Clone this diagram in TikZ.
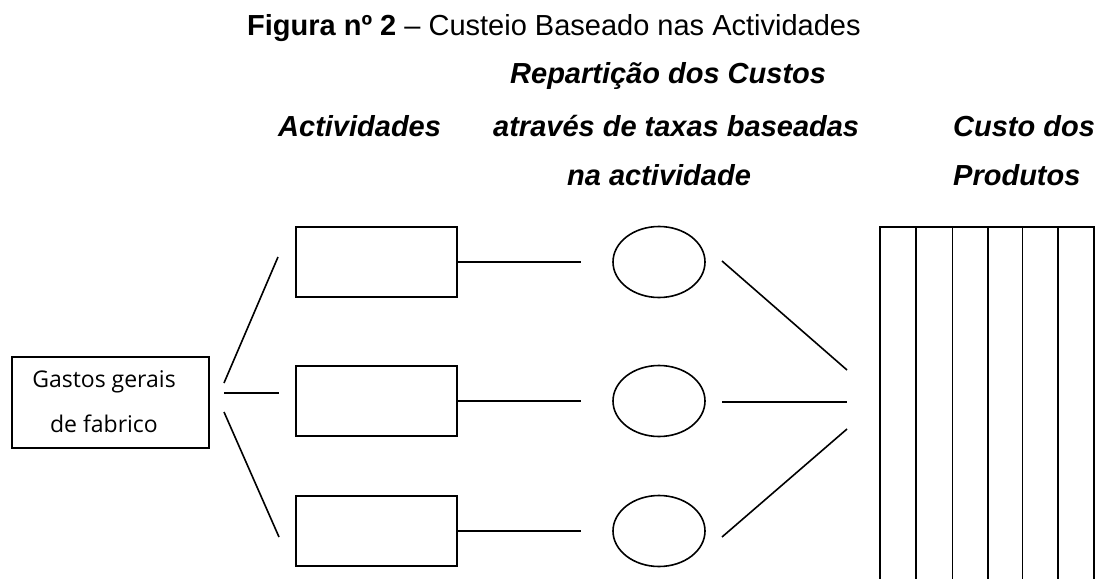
\documentclass[tikz,border=0pt]{standalone}
\usepackage{fontspec}
\setmainfont{Liberation Sans}
\newfontfamily\gastosfont{Open Sans}
\usetikzlibrary{shapes.geometric}
\begin{document}
\begin{tikzpicture}[x=1pt,y=-1pt,
  ln/.style={line width=1.6pt},
  actbox/.style={draw,line width=1.6pt,minimum width=161pt,minimum height=70pt,inner sep=0pt},
  rate/.style={draw,ellipse,line width=1.6pt,minimum width=92pt,minimum height=71pt,inner sep=0pt},
  srcbox/.style={draw,line width=1.6pt,minimum width=197pt,minimum height=91pt,inner sep=0pt},
  hdr/.style={anchor=base west,inner sep=0pt,font=\fontsize{29}{34}\selectfont\bfseries\itshape},
  ttl/.style={anchor=base west,inner sep=0pt,font=\fontsize{29}{34}\selectfont},
  gtxt/.style={align=center,inner sep=0pt,font=\gastosfont\fontsize{23}{45}\selectfont}]
\useasboundingbox (0,0) rectangle (1097,578);

% title and headers
\node[ttl] (title) at (247,36) {\textbf{Figura nº 2} – Custeio Baseado nas Actividades};
\node[hdr] (h1) at (510,84) {Repartição dos Custos};
\node[hdr] (h2) at (278,136) {Actividades};
\node[hdr] (h3) at (493,136) {através de taxas baseadas};
\node[hdr] (h4) at (953,136) {Custo dos};
\node[hdr] (h5) at (567,185) {na actividade};
\node[hdr] (h6) at (953,185) {Produtos};

% source box
\node[srcbox] (g) at (110.5,402.5) {};
\node[gtxt] (gt) at (104,402) {Gastos gerais\\de fabrico};

% activity boxes
\node[actbox] (a1) at (376.5,262) {};
\node[actbox] (a2) at (376.5,401) {};
\node[actbox] (a3) at (376.5,531) {};

% rate ellipses
\node[rate] (r1) at (659,262) {};
\node[rate] (r2) at (659,401) {};
\node[rate] (r3) at (659,531) {};

% connector end points
\coordinate (s1) at (224,383);  \coordinate (e1) at (278,257);
\coordinate (s2) at (224,393);  \coordinate (e2) at (279,393);
\coordinate (s3) at (224,412);  \coordinate (e3) at (279,537);
\coordinate (m1) at (581,262);  \coordinate (m2) at (581,401);  \coordinate (m3) at (581,531);
\coordinate (p1) at (722,261);  \coordinate (q1) at (847,370);
\coordinate (p2) at (722,402);  \coordinate (q2) at (847,402);
\coordinate (p3) at (722,537);  \coordinate (q3) at (847,429);

\draw[ln] (s1) -- (e1);
\draw[ln] (s2) -- (e2);
\draw[ln] (s3) -- (e3);
\draw[ln] (a1.east) -- (m1);
\draw[ln] (a2.east) -- (m2);
\draw[ln] (a3.east) -- (m3);
\draw[ln] (p1) -- (q1);
\draw[ln] (p2) -- (q2);
\draw[ln] (p3) -- (q3);

% product columns
\draw[ln] (880,580) |- (1094,227) -- (1094,580);
\foreach \cx in {916,952.5,988,1022.5,1058}
  \draw[ln] (\cx,227) -- (\cx,580);
\end{tikzpicture}
\end{document}
